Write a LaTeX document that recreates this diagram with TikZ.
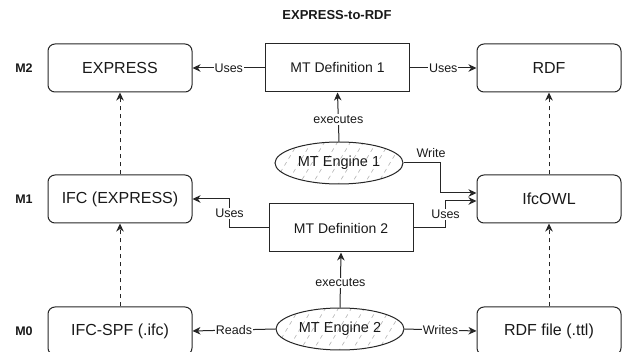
\documentclass[tikz,border=0pt]{standalone}
\usepackage{fontspec}
\setmainfont{Liberation Sans}
\usetikzlibrary{arrows.meta,shapes.geometric}

\tikzset{
  box/.style={draw=black!85, line width=1pt, minimum width=144pt, minimum height=48pt,
              inner sep=0pt, text=black!90, font=\fontsize{16}{19}\selectfont},
  rbox/.style={box, rounded corners=7pt},
  defbox/.style={box, font=\fontsize{14}{17}\selectfont},
  engine/.style={draw=black!85, line width=1pt, ellipse, minimum width=128pt,
                 minimum height=42pt, inner sep=0pt, text=black!90,
                 font=\fontsize{14.5}{17}\selectfont},
  hatch/.style={draw=black!30, line width=0.6pt, dash pattern=on 4pt off 4pt},
  arr/.style={draw=black!85, line width=1pt, -{Stealth[length=8pt,width=7.5pt,inset=2.5pt]}},
  darr/.style={arr, dash pattern=on 4pt off 4pt},
  lbl/.style={fill=white, inner sep=1pt, text=black!90, font=\fontsize{12.5}{15}\selectfont},
  level/.style={text=black!90, font=\bfseries\fontsize{12.5}{15}\selectfont},
}

\begin{document}
\begin{tikzpicture}[x=1pt,y=-1pt]
\useasboundingbox (0,0) rectangle (624,352);

% title
\node[font=\bfseries\fontsize{13}{16}\selectfont, text=black!90] (title) at (337,15) {EXPRESS-to-RDF};

% metalevel labels
\node[level] (m2) at (24,68) {M2};
\node[level] (m1) at (24,199) {M1};
\node[level] (m0) at (24,331) {M0};

% model boxes
\node[rbox] (express) at (120,68) {EXPRESS};
\node[rbox] (rdf)     at (549,68) {RDF};
\node[rbox] (ifc)     at (120,199) {IFC (EXPRESS)};
\node[rbox] (ifcowl)  at (549,199) {IfcOWL};
\node[rbox] (spf)     at (120,331) {IFC-SPF (.ifc)};
\node[rbox] (rdffile) at (549,331) {RDF file (.ttl)};

% transformation definitions
\node[defbox] (def1) at (337.5,68) {MT Definition 1};
\node[defbox] (def2) at (341,228) {MT Definition 2};

% engines with hatched fill
\coordinate (e1c) at (339,163);
\coordinate (e2c) at (340,329);
\foreach \c in {e1c,e2c}{
  \begin{scope}
    \clip (\c) ellipse [x radius=64pt, y radius=21pt];
    \foreach \dx in {-110,-97,...,90}
      \draw[hatch] ([xshift=\dx pt, yshift=-30pt]\c) -- ++(36pt,60pt);
  \end{scope}
}
\node[engine] (eng1) at (e1c) {MT Engine 1};
\node[engine] (eng2) at (e2c) {MT Engine 2};

% uses / executes
\draw[arr] (def1.west) -- node[lbl]{Uses} (express.east);
\draw[arr] (def1.east) -- node[lbl]{Uses} (rdf.west);
\draw[arr] (eng1.north) -- node[lbl, pos=0.45]{executes} (def1.south);
\draw[arr] (eng2.north) -- node[lbl, pos=0.45]{executes} (def2.south);

% engine 1 writes IfcOWL
\coordinate (wIn) at ([yshift=6pt]ifcowl.west);
\coordinate (uIn) at ([yshift=-2pt]ifcowl.west);
\draw[arr] (eng1.east) -- ++(37,0) |- (wIn);
\node[lbl, fill=none] (wlbl) at (431,153) {Write};

% definition 2 uses both metamodels
\draw[arr] (def2.west) -- ++(-39,0) |- node[lbl, pos=0.25]{Uses} (ifc.east);
\draw[arr] (def2.east) -- ++(32,0) |- node[lbl, pos=0.25]{Uses} (uIn);

% engine 2 reads and writes files
\draw[arr] (eng2.west) -- node[lbl]{Reads} (spf.west -| spf.east);
\draw[arr] (eng2.east) -- node[lbl]{Writes} (rdffile.west);

% instance-of relations
\draw[darr] (ifc.north) -- (express.south);
\draw[darr] (spf.north) -- (ifc.south);
\draw[darr] (ifcowl.north) -- (rdf.south);
\draw[darr] (rdffile.north) -- (ifcowl.south);
\end{tikzpicture}
\end{document}
